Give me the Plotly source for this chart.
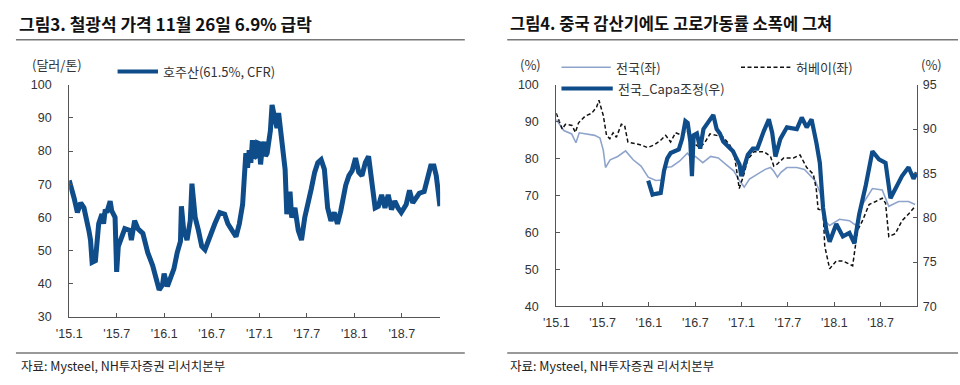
import plotly.graph_objects as go

# ---------------- DATA ----------------
# x values are months elapsed since January 2015
tick_vals = [0, 6, 12, 18, 24, 30, 36, 42]
tick_text = ["'15.1", "'15.7", "'16.1", "'16.7", "'17.1", "'17.7", "'18.1", "'18.7"]

# Figure 3: Australian iron ore price (61.5%, CFR), USD/ton
ore_month = [0.0, 0.21, 0.62, 1.03, 1.45, 1.86, 2.27, 2.48, 2.69, 2.89, 3.31, 3.72, 4.13, 4.34,
             4.55, 4.75, 5.17, 5.37, 5.79, 5.99, 6.20, 6.61, 7.02, 7.64, 7.85, 8.26, 8.68, 9.30,
             9.92, 10.54, 10.95, 11.36, 11.78, 11.98, 12.40, 12.81, 13.22, 13.64, 14.05, 14.17,
             14.46, 14.88, 15.29, 15.50, 15.91, 16.32, 16.74, 17.15, 17.56, 17.98, 18.39, 19.01,
             19.63, 20.04, 20.66, 21.07, 21.49, 21.90, 22.31, 22.52, 22.73, 22.94, 23.14, 23.35,
             23.55, 23.76, 23.97, 24.17, 24.38, 24.59, 24.80, 25.00, 25.41, 25.62, 26.03, 26.24,
             26.45, 26.86, 27.27, 27.48, 27.89, 28.10, 28.51, 28.93, 29.34, 29.75, 30.17, 30.58,
             31.00, 31.40, 31.82, 32.23, 32.64, 33.06, 33.47, 33.88, 34.30, 34.92, 35.33, 35.74,
             36.16, 36.57, 36.98, 37.40, 37.81, 38.22, 38.64, 39.05, 39.46, 39.88, 40.29, 40.70,
             41.12, 41.53, 41.94, 42.56, 42.98, 43.39, 43.80, 44.21, 44.83, 45.25, 45.66, 46.07,
             46.36, 46.61, 46.82]
ore_price = [71.2, 69.7, 65.8, 61.5, 64.4, 62.9, 59.0, 56.1, 53.2, 46.5, 47.0, 58.1, 61.0, 58.1,
             62.4, 61.5, 64.9, 62.0, 60.0, 43.6, 51.3, 54.2, 56.6, 56.1, 53.2, 59.0, 56.6, 55.2,
             49.4, 45.5, 41.6, 38.2, 39.7, 43.1, 39.2, 41.6, 44.5, 49.4, 52.8, 63.4,
             56.1, 53.2, 59.0, 70.2, 60.0, 56.1, 51.3, 50.3, 53.2, 56.1, 58.1, 61.5,
             61.0, 58.1, 55.7, 54.2, 58.1, 63.9, 79.4, 75.0, 80.3, 76.5, 83.3, 78.0,
             78.4, 82.5, 82.3, 76.0, 81.0, 82.8, 78.5, 79.4, 86.2, 93.9, 89.1, 87.0,
             91.5, 82.3, 74.5, 61.0, 67.8, 60.0, 62.9, 56.1, 53.2, 60.0, 63.9, 68.7,
             73.6, 76.5, 77.4, 74.5, 62.9, 59.0, 61.5, 58.1, 62.0, 69.7, 72.6, 74.1,
             77.9, 73.6, 72.6, 76.5, 78.4, 69.7, 62.9, 63.4, 66.8, 62.9, 66.8, 62.4,
             64.9, 62.9, 61.5, 63.9, 68.2, 64.4, 65.8, 67.3, 67.8, 72.6, 75.5, 75.5,
             72.6, 67.8, 63.4]

# Figure 4: blast furnace utilisation (%)
nat_month = [0.0, 0.98, 2.0, 2.55, 2.98, 3.96, 4.98, 5.66, 6.09, 6.38, 6.98, 7.96, 8.98, 9.96,
             10.98, 11.91, 12.89, 13.87, 14.09, 14.94, 15.96, 16.98, 17.49, 18.0, 18.98, 20.0,
             20.98, 22.0, 22.98, 23.74, 24.34, 25.02, 26.09, 27.06, 27.74, 28.2, 28.64, 29.1,
             29.87, 31.15, 32.13, 32.85, 33.53, 34.13, 34.55, 34.77, 35.4, 36.68, 37.96, 38.81,
             39.66, 40.94, 42.21, 43.06, 44.34, 45.62, 46.47]
nat_util = [90.6, 87.6, 86.7, 84.3, 87.0, 86.7, 86.3, 85.6, 82.3, 77.6, 79.7, 80.6, 82.1, 79.7,
            78.0, 75.0, 74.1, 74.2, 77.6, 77.8, 79.3, 81.5, 80.3, 80.6, 78.9, 80.6,
            80.2, 78.4, 76.7, 74.0, 72.3, 74.5, 75.8, 77.1, 77.6, 76.5, 75.0, 76.3,
            77.6, 77.6, 77.1, 75.4, 74.0, 71.0, 67.0, 63.2, 61.9, 63.6, 63.2, 61.9,
            67.6, 71.9, 71.5, 67.1, 68.4, 68.4, 67.6]

hebei_month = [0.0, 0.55, 0.77, 1.19, 2.04, 2.47, 2.89, 3.74, 4.6, 5.23, 5.53, 6.09, 6.51, 6.94,
               7.36, 7.79, 8.43, 8.85, 9.28, 10.13, 10.98, 11.83, 12.68, 13.53, 14.17, 14.81,
               15.45, 16.09, 16.94, 17.36, 17.57, 17.87, 18.64, 19.28, 19.91, 20.77, 21.62,
               22.47, 23.06, 23.7, 24.34, 24.77, 25.62, 26.89, 27.74, 28.17, 28.6, 29.45,
               30.72, 31.57, 32.43, 33.28, 33.66, 33.91, 34.55, 34.77, 35.4, 36.26, 37.11,
               38.38, 39.02, 39.66, 40.51, 41.36, 42.21, 42.64, 43.06, 43.91, 44.77, 45.62, 46.47]
hebei_util = [92.3, 89.5, 88.0, 89.3, 89.0, 87.1, 89.7, 91.5, 92.3, 94.0, 95.8, 91.7, 86.3, 85.4,
              87.0, 85.8, 89.3, 89.0, 84.5, 84.1, 83.7, 83.0, 83.7, 85.0, 86.3, 84.5,
              87.0, 86.5, 87.5, 86.0, 75.5, 84.0, 83.0, 84.5, 86.7, 86.3, 85.8,
              83.7, 81.0, 71.9, 76.0, 79.7, 81.9, 81.9, 80.6, 78.0, 78.5, 80.2,
              80.2, 81.0, 77.6, 75.8, 72.0, 66.3, 66.0, 56.3, 50.2, 52.3, 52.3,
              51.0, 60.6, 63.2, 67.6, 68.4, 69.3, 68.0, 58.9, 59.7, 63.2, 65.0, 67.1]

capa_month = [11.91, 12.26, 12.47, 12.89, 13.53, 13.96, 14.38, 14.81, 15.45, 15.87, 16.3, 16.72,
              17.02, 17.36, 17.57, 17.79, 18.21, 18.64, 19.06, 19.49, 19.91, 20.34, 20.77, 21.19,
              21.62, 22.26, 22.89, 23.32, 23.74, 23.96, 24.38, 24.81, 25.45, 26.04, 26.89, 27.53,
              27.96, 28.38, 29.02, 29.87, 31.15, 31.79, 32.43, 33.06, 33.7, 34.13, 34.55, 34.98,
              35.4, 36.26, 37.11, 37.96, 38.6, 39.23, 40.09, 40.94, 41.79, 42.64, 43.28, 43.91,
              44.77, 45.62, 46.26, 46.68]
capa_util = [84.2, 82.9, 82.6, 82.7, 82.8, 85.3, 86.7, 87.3, 87.6, 87.7, 88.9, 90.9,
             90.7, 88.6, 84.7, 89.3, 89.5, 87.8, 90.0, 90.5, 91.1, 91.6, 90.0, 89.5,
             88.6, 88.0, 87.5, 86.7, 86.0, 84.7, 86.0, 87.1, 87.8, 87.8, 89.8, 91.1,
             89.6, 86.9, 88.9, 90.2, 90.0, 91.3, 90.2, 91.1, 88.4, 86.2, 81.1, 78.6,
             77.3, 79.3, 77.9, 78.3, 77.1, 80.4, 83.7, 87.5, 86.6, 86.2, 82.2, 83.3,
             84.7, 85.7, 84.4, 85.1]

# ---------------- STYLE ----------------
W, H = 960, 385
BLUE = "#0f4c8a"
LIGHT = "#8fa4cb"
AX = "#555555"
TXT = "#333333"
TICKFONT = dict(family="Liberation Sans, Arial", size=12.5, color=TXT)
KFONT = "Noto Sans CJK KR"


def px(x):
    return x / W


def py(y):
    return 1 - y / H


fig = go.Figure()

fig.add_trace(go.Scatter(x=ore_month, y=ore_price, mode="lines", xaxis="x", yaxis="y",
                         line=dict(color=BLUE, width=5), showlegend=False))
fig.add_trace(go.Scatter(x=nat_month, y=nat_util, mode="lines", xaxis="x2", yaxis="y2",
                         line=dict(color=LIGHT, width=1.6), showlegend=False))
fig.add_trace(go.Scatter(x=hebei_month, y=hebei_util, mode="lines", xaxis="x2", yaxis="y2",
                         line=dict(color="#111111", width=1.5, dash="4px,2.5px"), showlegend=False))
fig.add_trace(go.Scatter(x=capa_month, y=capa_util, mode="lines", xaxis="x2", yaxis="y3",
                         line=dict(color=BLUE, width=4.2), showlegend=False))

axis_common = dict(showgrid=False, zeroline=False, showline=True, linecolor=AX, linewidth=1,
                   ticks="inside", ticklen=4, tickcolor=AX, tickfont=TICKFONT)

fig.update_layout(
    width=W, height=H,
    margin=dict(l=0, r=0, t=0, b=0),
    paper_bgcolor="white", plot_bgcolor="white",
    xaxis=dict(domain=[px(57), px(433)], range=[0, 46.85], anchor="y",
               tickmode="array", tickvals=tick_vals, ticktext=tick_text,
               ticklabelstandoff=5, **axis_common),
    yaxis=dict(domain=[py(321.7), py(80.7)], range=[30, 100], anchor="x",
               tickmode="array", tickvals=[30, 40, 50, 60, 70, 80, 90, 100],
               ticklabelstandoff=14, **axis_common),
    xaxis2=dict(domain=[px(550.7), px(916.7)], range=[0, 46.75], anchor="y2",
                tickmode="array", tickvals=tick_vals, ticktext=tick_text,
                ticklabelstandoff=5, **axis_common),
    yaxis2=dict(domain=[py(310.7), py(80.7)], range=[40, 100], anchor="x2",
                tickmode="array", tickvals=[40, 50, 60, 70, 80, 90, 100],
                ticklabelstandoff=14, **axis_common),
    yaxis3=dict(range=[70, 95], overlaying="y2", side="right", anchor="x2",
                tickmode="array", tickvals=[70, 75, 80, 85, 90, 95],
                ticklabelstandoff=2, **axis_common),
)

shapes = [
    # title separators
    dict(type="line", xref="paper", yref="paper", x0=px(3), x1=px(458), y0=py(34), y1=py(34),
         line=dict(color="#777777", width=1.5)),
    dict(type="line", xref="paper", yref="paper", x0=px(501), x1=px(958), y0=py(34), y1=py(34),
         line=dict(color="#777777", width=1.5)),
    # bottom separators
    dict(type="line", xref="paper", yref="paper", x0=px(3), x1=px(458), y0=py(359), y1=py(359),
         line=dict(color="#777777", width=1.5)),
    dict(type="line", xref="paper", yref="paper", x0=px(501), x1=px(958), y0=py(359), y1=py(359),
         line=dict(color="#777777", width=1.5)),
    # legend swatches
    dict(type="line", xref="paper", yref="paper", x0=px(106), x1=px(147), y0=py(67), y1=py(67),
         line=dict(color=BLUE, width=4)),
    dict(type="line", xref="paper", yref="paper", x0=px(556), x1=px(606), y0=py(62.5), y1=py(62.5),
         line=dict(color=LIGHT, width=1.6)),
    dict(type="line", xref="paper", yref="paper", x0=px(738), x1=px(788), y0=py(62.5), y1=py(62.5),
         line=dict(color="#111111", width=1.5, dash="4px,2.5px")),
    dict(type="line", xref="paper", yref="paper", x0=px(556), x1=px(608), y0=py(84.5), y1=py(84.5),
         line=dict(color=BLUE, width=4)),
]
fig.update_layout(shapes=shapes)


def text(x, y, s, size=13, color=TXT, xanchor="left", bold=False, family=KFONT):
    fig.add_annotation(x=px(x), y=py(y), xref="paper", yref="paper", text=s, showarrow=False,
                       xanchor=xanchor, yanchor="middle",
                       font=dict(family=family, size=size, color=color,
                                 weight="bold" if bold else "normal"))


text(4, 17, "그림3. 철광석 가격 11월 26일 6.9% 급락", size=17, color="#111111", bold=True)
text(502, 17, "그림4. 중국 감산기에도 고로가동률 소폭에 그쳐", size=16.5, color="#111111", bold=True)

text(45, 60, "(달러/톤)", size=13, xanchor="center")
text(150, 67, "호주산(61.5%, CFR)", size=13)

text(525, 60, "(%)", size=13, xanchor="center")
text(931, 60, "(%)", size=13, xanchor="center")
text(609, 63, "전국(좌)", size=13)
text(792, 63, "허베이(좌)", size=13)
text(611, 85, "전국_Capa조정(우)", size=13)

text(6, 372, "자료: Mysteel, NH투자증권 리서치본부", size=12.5, color="#222222")
text(502, 372, "자료: Mysteel, NH투자증권 리서치본부", size=12.5, color="#222222")

fig.write_html("out.html",
               config={"displayModeBar": False},
               post_script="document.body.style.margin='0';document.body.style.overflow='hidden';")
